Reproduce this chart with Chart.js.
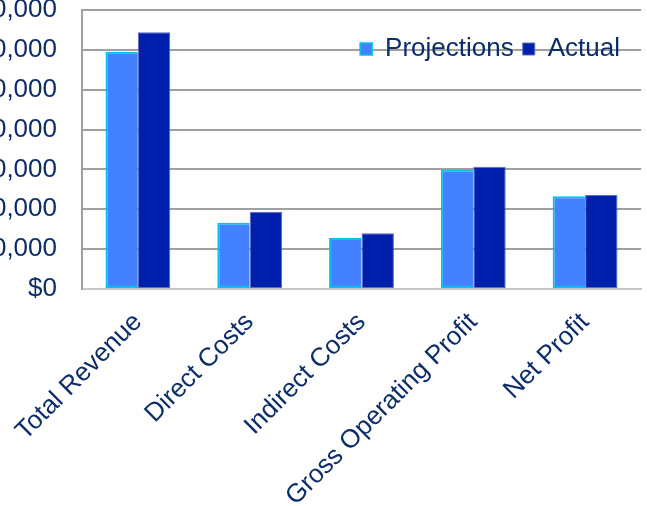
<!DOCTYPE html>
<html>
<head>
<meta charset="utf-8">
<script src="https://cdn.jsdelivr.net/npm/chart.js@4"></script>
<style>
  html, body { margin: 0; padding: 0; background: #fff; }
  #wrap { position: relative; width: 647px; height: 506px; overflow: hidden; }
</style>
</head>
<body>
<div id="wrap"><canvas id="finChart" width="647" height="506"></canvas></div>
<script>
// values
const categories = ["Total Revenue", "Direct Costs", "Indirect Costs", "Gross Operating Profit", "Net Profit"];
const projections = [59500, 16600, 12800, 30000, 23300];
const actual = [64400, 19400, 14000, 30700, 23600];
const yTicks = [0, 10000, 20000, 30000, 40000, 50000, 60000, 70000];

const textColor = "#0C2D6B";
const gridColor = "#A0A0A0";
const font = { family: "'Liberation Sans', Arial, sans-serif", size: 26 };

// puts the legend inside the plot, top right, without taking layout space
const legendInside = {
  id: "legendInside",
  afterLayout(chart) {
    const lg = chart.legend;
    lg.top = 27;
    lg.bottom = 27 + 40;
    lg.height = 40;
    lg.right = chart.chartArea.right - 12;
  },
};

const ctx = document.getElementById("finChart").getContext("2d");
new Chart(ctx, {
  type: "bar",
  data: {
    labels: categories,
    datasets: [
      {
        label: "Projections",
        data: projections,
        backgroundColor: "#4381FF",
        borderColor: "#00C4F0",
        borderWidth: { left: 2, top: 2, bottom: 2, right: 0 },
        borderSkipped: false,
        categoryPercentage: 0.58,
        barPercentage: 1,
      },
      {
        label: "Actual",
        data: actual,
        backgroundColor: "#001FAA",
        borderColor: "#5A6AC8",
        borderWidth: 1,
        borderSkipped: false,
        categoryPercentage: 0.58,
        barPercentage: 1,
      },
    ],
  },
  options: {
    responsive: false,
    animation: false,
    layout: { padding: { top: 10, right: 6, left: 0, bottom: 0 } },
    plugins: {
      legend: {
        position: "top",
        align: "end",
        maxHeight: 0.001,
        labels: {
          color: textColor,
          font: font,
          boxWidth: 12,
          boxHeight: 12,
          padding: 9,
        },
      },
      tooltip: { enabled: false },
    },
    scales: {
      x: {
        grid: { display: false },
        border: { display: true, color: "#C8C8C8", width: 2 },
        ticks: {
          color: textColor,
          font: font,
          minRotation: 45,
          maxRotation: 45,
          autoSkip: false,
          padding: 10,
        },
        afterFit(scale) {
          scale.height = 217;
          scale.paddingLeft = 0;
          scale.paddingRight = 0;
        },
      },
      y: {
        min: 0,
        max: 70000,
        afterBuildTicks(scale) {
          scale.ticks = yTicks.map((v) => ({ value: v }));
        },
        grid: { color: gridColor, lineWidth: 2, drawTicks: false },
        border: { display: true, color: gridColor, width: 2 },
        ticks: {
          color: textColor,
          font: font,
          padding: 25,
          callback: (v) => "$" + Number(v).toLocaleString("en-US"),
        },
        afterFit(scale) {
          scale.width = 82;
          scale.paddingTop = 0;
          scale.paddingBottom = 0;
        },
      },
    },
  },
  plugins: [legendInside],
});
</script>
</body>
</html>
